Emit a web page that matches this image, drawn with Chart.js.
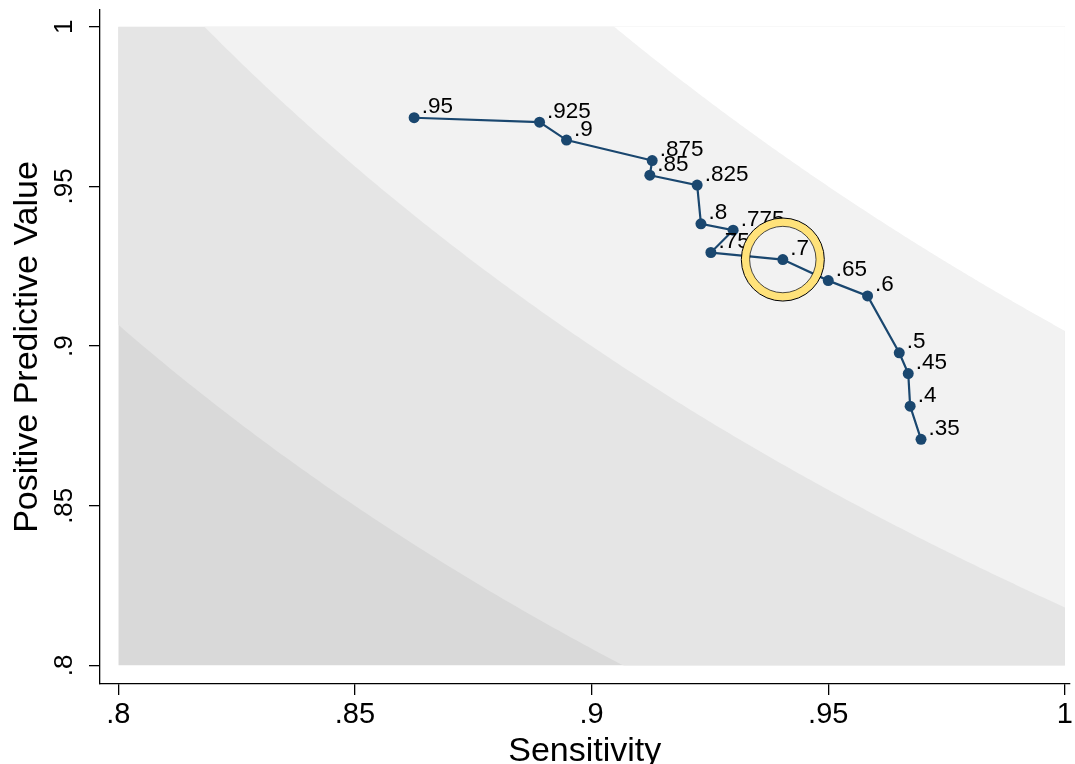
<!DOCTYPE html>
<html>
<head>
<meta charset="utf-8">
<script src="https://cdn.jsdelivr.net/npm/chart.js@4.4.1/dist/chart.umd.min.js"></script>
<style>
  html, body { margin: 0; padding: 0; background: #ffffff; }
  #wrap { width: 1075px; height: 764px; position: relative; }
</style>
</head>
<body>
<div id="wrap"><canvas id="c"></canvas></div>
<script>
// ---- data ----
const thresholdLabels = ['.95', '.925', '.9', '.875', '.85', '.825', '.8', '.775', '.75', '.7', '.65', '.6', '.5', '.45', '.4', '.35'];
const sensitivity = [0.8625, 0.8890, 0.8947, 0.9128, 0.9123, 0.9223, 0.9231, 0.9299, 0.9252, 0.9404, 0.9500, 0.9583, 0.9650, 0.9669, 0.9673, 0.9696];
const ppv = [0.9715, 0.9701, 0.9645, 0.9581, 0.9535, 0.9504, 0.9383, 0.9363, 0.9293, 0.9271, 0.9205, 0.9157, 0.8979, 0.8914, 0.8812, 0.8708];
const xTicks = [0.8, 0.85, 0.9, 0.95, 1];
const yTicks = [0.8, 0.85, 0.9, 0.95, 1];
const f1Levels = [0.85, 0.9, 0.95];
const highlightLabel = '.7';

// ---- styles ----
const FONT = '"Liberation Sans", Arial, Helvetica, sans-serif';
const NAVY = '#1a476f';
const regionColors = ['#d9d9d9', '#e5e5e5', '#f2f2f2', '#ffffff'];
const box = { x0: 0.8, x1: 1, y0: 0.8, y1: 1 };

function fmt(v) {
  if (Math.abs(v - 1) < 1e-9) return '1';
  return String(+v.toFixed(3)).replace(/^0/, '');
}

const bgPlugin = {
  id: 'f1bg',
  beforeDatasetsDraw(chart) {
    const { ctx, scales: { x, y } } = chart;
    const X = v => x.getPixelForValue(v), Y = v => y.getPixelForValue(v);
    ctx.save();
    ctx.beginPath();
    ctx.rect(X(box.x0), Y(box.y1), X(box.x1) - X(box.x0), Y(box.y0) - Y(box.y1));
    ctx.clip();
    ctx.fillStyle = regionColors[0];
    ctx.fillRect(X(box.x0), Y(box.y1), X(box.x1) - X(box.x0), Y(box.y0) - Y(box.y1));
    f1Levels.forEach((f, i) => {
      const xa = f / (2 - f);
      ctx.beginPath();
      const n = 200;
      for (let k = 0; k <= n; k++) {
        const xv = xa + (1 - xa) * k / n;
        const yv = f * xv / (2 * xv - f);
        if (k === 0) ctx.moveTo(X(xv), Y(yv)); else ctx.lineTo(X(xv), Y(yv));
      }
      ctx.lineTo(X(1.01), Y(f / (2 - f)));
      ctx.lineTo(X(1.01), Y(1.01));
      ctx.lineTo(X(xa), Y(1.01));
      ctx.closePath();
      ctx.fillStyle = regionColors[i + 1];
      ctx.fill();
    });
    ctx.restore();
  }
};

const labelPlugin = {
  id: 'ptlabels',
  afterDatasetsDraw(chart) {
    const { ctx } = chart;
    const meta = chart.getDatasetMeta(0);
    ctx.save();
    ctx.font = '22.5px ' + FONT;
    ctx.fillStyle = '#000';
    ctx.textAlign = 'left';
    ctx.textBaseline = 'alphabetic';
    meta.data.forEach((el, i) => {
      ctx.fillText(thresholdLabels[i], el.x + 7.5, el.y - 4.5);
    });
    // highlight ring
    const hi = thresholdLabels.indexOf(highlightLabel);
    if (hi >= 0) {
      const el = meta.data[hi];
      ctx.beginPath();
      ctx.arc(el.x, el.y, 37.3, 0, Math.PI * 2);
      ctx.strokeStyle = '#ffe27a';
      ctx.lineWidth = 8;
      ctx.stroke();
      ctx.lineWidth = 1;
      ctx.strokeStyle = '#000';
      ctx.beginPath();
      ctx.arc(el.x, el.y, 41.5, 0, Math.PI * 2);
      ctx.stroke();
      ctx.lineWidth = 0.7;
      ctx.beginPath();
      ctx.arc(el.x, el.y, 33.2, 0, Math.PI * 2);
      ctx.stroke();
    }
    ctx.restore();
  }
};

function fixScale(size, prop) {
  return function (scale) {
    scale[prop] = size;
    scale.paddingTop = 0; scale.paddingBottom = 0;
    scale.paddingLeft = 0; scale.paddingRight = 0;
  };
}

new Chart(document.getElementById('c'), {
  type: 'scatter',
  data: {
    datasets: [{
      data: sensitivity.map((s, i) => ({ x: s, y: ppv[i] })),
      showLine: true,
      borderColor: NAVY,
      borderWidth: 2.2,
      backgroundColor: NAVY,
      pointBackgroundColor: NAVY,
      pointBorderWidth: 0,
      pointRadius: 5.5,
      pointHoverRadius: 5.5,
      tension: 0
    }]
  },
  options: {
    responsive: true,
    maintainAspectRatio: false,
    animation: false,
    devicePixelRatio: 1,
    layout: { padding: { top: 10, left: 0, right: -5, bottom: 0 } },
    plugins: { legend: { display: false }, tooltip: { enabled: false } },
    scales: {
      x: {
        type: 'linear',
        min: 0.79613, max: 1.00097,
        afterBuildTicks: s => { s.ticks = xTicks.map(v => ({ value: v })); },
        afterFit: fixScale(80, 'height'),
        grid: { display: true, drawOnChartArea: false, drawTicks: true, tickLength: 11, color: '#000', lineWidth: 1.3 },
        border: { display: true, color: '#000', width: 1.3 },
        ticks: { color: '#000', font: { family: FONT, size: 29 }, padding: 3, maxRotation: 0, minRotation: 0, callback: v => fmt(v) },
        title: { display: true, text: 'Sensitivity', color: '#000', font: { family: FONT, size: 34, lineHeight: 1.2 }, padding: { top: 0, bottom: -8.4 } }
      },
      y: {
        type: 'linear',
        min: 0.7942, max: 1.00523,
        afterBuildTicks: s => { s.ticks = yTicks.map(v => ({ value: v })); },
        afterFit: fixScale(100, 'width'),
        grid: { display: true, drawOnChartArea: false, drawTicks: true, tickLength: 11, color: '#000', lineWidth: 1.3 },
        border: { display: true, color: '#000', width: 1.3 },
        ticks: { color: '#000', font: { family: FONT, size: 26 }, padding: 6, minRotation: 90, maxRotation: 90, crossAlign: 'center', callback: v => fmt(v) },
        title: { display: true, text: 'Positive Predictive Value', color: '#000', font: { family: FONT, size: 34, lineHeight: 1.2 }, padding: { top: 7.4, bottom: 0 } }
      }
    }
  },
  plugins: [bgPlugin, labelPlugin]
});
</script>
</body>
</html>
